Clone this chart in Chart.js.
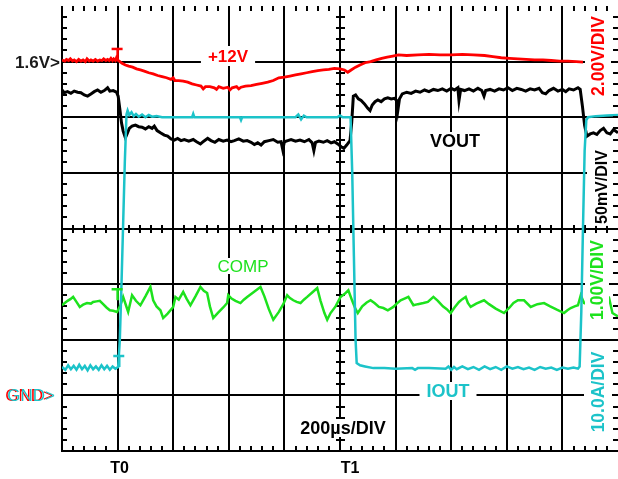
<!DOCTYPE html>
<html>
<head>
<meta charset="utf-8">
<script src="https://cdn.jsdelivr.net/npm/chart.js@4.4.1/dist/chart.umd.min.js"></script>
<style>
  html, body { margin: 0; padding: 0; background: #fff; }
  canvas { display: block; }
</style>
</head>
<body>
<canvas id="c" width="618" height="479"></canvas>
<script>
// Horizontal axis: divisions (200µs/DIV), vertical axis: screen divisions from bottom.
const xDivisions = 10;
const yDivisions = 8;
const timeLabels = ['T0', 'T1'];
const timeMarks = [1.0, 5.0];

// +12V trace (red)
const trace12V = [[0,7.03],[0.05,7.01],[0.08,7.04],[0.12,7.02],[0.15,7.05],[0.19,7.01],[0.22,7.03],[0.26,7.00],[0.3,7.04],[0.34,7.01],[0.38,7.03],[0.42,7.00],
[0.45,7.05],[0.49,7.01],[0.52,7.03],[0.56,7.01],[0.6,7.04],[0.64,7.01],[0.68,7.03],[0.72,7.02],[0.75,7.05],[0.79,7.02],[0.82,7.04],[0.85,7.02],
[0.88,7.06],[0.91,7.02],[0.93,7.05],[0.96,7.02],[0.98,7.07],[1.01,7.02],[1.03,7.01],[1.08,6.97],[1.14,6.94],[1.2,6.92],[1.27,6.90],
[1.34,6.87],[1.41,6.85],[1.48,6.83],[1.56,6.80],[1.64,6.78],[1.72,6.75],[1.8,6.73],[1.88,6.71],[1.96,6.68],[2.0,6.71],[2.03,6.66],
[2.1,6.66],[2.18,6.65],[2.26,6.63],[2.34,6.60],[2.42,6.58],[2.5,6.56],[2.54,6.51],[2.58,6.55],[2.66,6.55],[2.74,6.53],[2.78,6.50],[2.82,6.55],
[2.9,6.52],[2.98,6.54],[3.02,6.49],[3.06,6.53],[3.14,6.55],[3.18,6.51],[3.22,6.54],[3.3,6.56],[3.4,6.57],[3.5,6.59],[3.6,6.61],[3.7,6.63],
[3.8,6.66],[3.9,6.71],[4.0,6.72],[4.1,6.74],[4.2,6.76],[4.3,6.78],[4.4,6.80],[4.5,6.82],[4.6,6.84],[4.7,6.85],
[4.8,6.86],[4.9,6.88],[5.0,6.87],[5.08,6.85],[5.14,6.81],[5.2,6.85],[5.28,6.90],[5.36,6.94],[5.45,6.98],[5.55,7.00],
[5.65,7.03],[5.75,7.06],[5.85,7.08],[5.95,7.10],[6.05,7.12],[6.2,7.11],[6.4,7.12],[6.6,7.13],[6.8,7.12],[7.0,7.12],
[7.2,7.13],[7.4,7.12],[7.6,7.11],[7.75,7.09],[7.9,7.07],[8.05,7.06],[8.2,7.05],[8.35,7.04],[8.5,7.03],[8.65,7.03],
[8.8,7.02],[8.95,7.01],[9.1,7.01],[9.25,7.00],[9.37,6.99]];

// VOUT trace (black)
const traceVout = [[0,6.49],[0.04,6.44],[0.1,6.46],[0.16,6.43],[0.22,6.47],[0.28,6.45],[0.34,6.44],[0.4,6.40],[0.46,6.38],[0.52,6.42],
[0.58,6.46],[0.64,6.49],[0.7,6.45],[0.76,6.48],[0.82,6.53],[0.86,6.47],[0.92,6.48],[0.98,6.45],[1.01,6.38],[1.04,6.15],
[1.07,5.90],[1.1,5.75],[1.14,5.63],[1.17,5.70],[1.21,5.80],[1.26,5.84],[1.32,5.86],[1.38,5.83],[1.44,5.82],[1.5,5.79],
[1.56,5.83],[1.62,5.80],[1.66,5.84],[1.71,5.76],[1.77,5.72],[1.84,5.68],[1.9,5.66],[1.96,5.61],[2.02,5.59],[2.08,5.62],
[2.14,5.58],[2.2,5.60],[2.28,5.57],[2.36,5.60],[2.42,5.56],[2.49,5.52],[2.55,5.57],[2.62,5.62],[2.68,5.58],[2.75,5.55],
[2.82,5.60],[2.9,5.57],[2.97,5.59],[3.04,5.56],[3.1,5.58],[3.18,5.61],[3.26,5.57],[3.33,5.58],[3.4,5.55],[3.46,5.51],
[3.52,5.54],[3.58,5.50],[3.64,5.56],[3.72,5.58],[3.8,5.60],[3.88,5.55],[3.94,5.56],[3.97,5.42],[4.0,5.56],[4.06,5.58],
[4.12,5.60],[4.2,5.57],[4.28,5.59],[4.36,5.56],[4.44,5.60],[4.5,5.54],[4.53,5.40],[4.56,5.55],[4.62,5.57],[4.7,5.55],
[4.77,5.58],[4.84,5.54],[4.9,5.56],[4.96,5.52],[5.02,5.47],[5.07,5.44],[5.12,5.50],[5.18,5.58],[5.21,5.90],[5.24,6.38],
[5.28,6.40],[5.33,6.33],[5.38,6.30],[5.44,6.24],[5.5,6.16],[5.54,6.12],[5.58,6.22],[5.63,6.28],[5.68,6.31],[5.74,6.28],
[5.8,6.33],[5.86,6.35],[5.92,6.33],[5.98,6.34],[6.02,6.30],[6.04,6.12],[6.07,6.33],[6.12,6.42],[6.2,6.45],[6.28,6.43],
[6.36,6.47],[6.44,6.45],[6.52,6.49],[6.6,6.46],[6.68,6.50],[6.76,6.48],[6.84,6.51],[6.92,6.47],[7.0,6.52],[7.06,6.49],
[7.12,6.53],[7.14,6.30],[7.17,6.50],[7.24,6.48],[7.32,6.51],[7.4,6.47],[7.48,6.52],[7.55,6.48],[7.59,6.38],[7.62,6.48],
[7.7,6.50],[7.78,6.47],[7.86,6.51],[7.94,6.49],[8.02,6.53],[8.1,6.48],[8.18,6.52],[8.26,6.50],[8.34,6.47],[8.42,6.51],
[8.5,6.49],[8.58,6.52],[8.64,6.44],[8.7,6.42],[8.76,6.48],[8.84,6.52],[8.92,6.47],[9.0,6.50],[9.06,6.46],[9.12,6.51],
[9.2,6.49],[9.28,6.53],[9.32,6.50],[9.36,6.20],[9.4,5.85],[9.44,5.66],[9.5,5.70],[9.56,5.72],[9.62,5.69],[9.68,5.76],
[9.74,5.80],[9.8,5.72],[9.86,5.70],[9.92,5.78],[10.0,5.72]];

// IOUT trace (cyan)
const traceIout = [[0,1.51],[0.06,1.46],[0.11,1.54],[0.16,1.47],[0.21,1.53],[0.26,1.46],[0.31,1.55],[0.36,1.47],[0.41,1.53],[0.46,1.45],
[0.51,1.54],[0.56,1.47],[0.61,1.52],[0.66,1.46],[0.71,1.54],[0.76,1.47],[0.81,1.53],[0.86,1.46],[0.91,1.52],[0.96,1.48],
[1.01,1.51],[1.04,2.0],[1.07,3.0],[1.1,4.1],[1.13,5.2],[1.16,6.05],[1.18,6.12],[1.21,6.04],[1.25,6.09],[1.29,6.02],
[1.33,6.06],[1.38,6.01],[1.44,6.05],[1.5,6.00],[1.56,6.04],[1.62,6.01],[1.7,6.02],[1.8,6.00],[2.0,6.00],[2.34,6.00],
[2.36,6.06],[2.38,6.00],[2.9,6.00],[3.2,6.00],[3.22,5.95],[3.24,6.00],[4.0,6.00],[4.2,6.00],[4.25,6.05],[4.3,5.96],
[4.35,6.03],[4.4,6.00],[4.95,6.00],[5.0,6.03],[5.05,6.00],[5.19,6.00],[5.22,5.0],[5.25,3.5],[5.28,2.0],[5.3,1.58],
[5.36,1.54],[5.45,1.52],[5.6,1.49],[5.8,1.49],[6.0,1.48],[6.3,1.49],[6.35,1.46],[6.4,1.49],[6.6,1.49],[6.9,1.48],
[6.95,1.52],[7.0,1.46],[7.05,1.51],[7.1,1.47],[7.2,1.52],[7.3,1.47],[7.4,1.51],[7.5,1.46],[7.6,1.52],[7.7,1.47],
[7.8,1.51],[7.9,1.46],[8.0,1.52],[8.1,1.48],[8.2,1.51],[8.3,1.47],[8.4,1.50],[8.5,1.46],[8.6,1.51],[8.7,1.48],
[8.8,1.50],[8.9,1.46],[9.0,1.50],[9.1,1.48],[9.2,1.50],[9.28,1.48],[9.31,1.52],[9.34,2.5],[9.37,4.0],[9.4,5.4],
[9.43,5.95],[9.46,6.00],[9.6,6.02],[9.8,6.03],[10.0,6.04]];

// COMP trace (green)
const traceComp = [[0,2.62],[0.05,2.66],[0.1,2.70],[0.15,2.73],[0.2,2.77],[0.26,2.68],[0.32,2.59],[0.38,2.63],[0.45,2.66],[0.52,2.65],
[0.56,2.68],[0.62,2.69],[0.68,2.70],[0.74,2.64],[0.8,2.58],[0.86,2.53],[0.92,2.52],[0.99,2.50],[1.05,2.62],[1.1,2.77],
[1.15,2.62],[1.19,2.50],[1.26,2.80],[1.33,2.70],[1.41,2.62],[1.5,2.78],[1.59,2.95],[1.64,2.71],[1.7,2.60],[1.77,2.53],
[1.82,2.39],[1.9,2.47],[2.0,2.59],[2.04,2.77],[2.1,2.72],[2.18,2.86],[2.24,2.74],[2.31,2.62],[2.4,2.78],[2.49,2.95],
[2.55,2.88],[2.61,2.84],[2.66,2.60],[2.72,2.39],[2.8,2.48],[2.9,2.58],[2.97,2.66],[2.99,2.80],[3.05,2.74],[3.12,2.70],
[3.21,2.66],[3.27,2.72],[3.33,2.77],[3.45,2.86],[3.57,2.95],[3.64,2.78],[3.72,2.55],[3.8,2.36],[3.9,2.50],[3.98,2.64],
[4.05,2.80],[4.1,2.75],[4.16,2.71],[4.22,2.68],[4.29,2.66],[4.35,2.72],[4.41,2.77],[4.5,2.85],[4.59,2.93],[4.65,2.70],
[4.72,2.48],[4.77,2.36],[4.83,2.48],[4.92,2.60],[5.01,2.77],[5.08,2.82],[5.15,2.89],[5.22,2.70],[5.28,2.55],[5.32,2.48],
[5.4,2.60],[5.48,2.67],[5.55,2.71],[5.62,2.66],[5.7,2.59],[5.78,2.57],[5.86,2.53],[5.96,2.59],[6.02,2.65],[6.09,2.71],
[6.16,2.74],[6.23,2.77],[6.32,2.62],[6.4,2.64],[6.5,2.66],[6.58,2.68],[6.68,2.77],[6.76,2.70],[6.85,2.60],[6.92,2.55],
[6.99,2.48],[7.06,2.58],[7.14,2.68],[7.2,2.73],[7.26,2.77],[7.3,2.66],[7.35,2.59],[7.45,2.65],[7.59,2.71],[7.68,2.64],
[7.8,2.56],[7.95,2.48],[8.05,2.58],[8.12,2.66],[8.2,2.71],[8.31,2.71],[8.43,2.59],[8.55,2.64],[8.67,2.66],[8.78,2.60],
[8.9,2.54],[9.03,2.48],[9.09,2.53],[9.15,2.57],[9.22,2.60],[9.28,2.62],[9.33,2.80],[9.39,2.66],[9.5,2.62],[9.7,2.65],
[9.84,2.75],[9.9,2.48],[10.0,2.42]];

// Trigger "T" markers: [x, y] in divisions
const trigMarks = [[1.0, 7.03, '#ff0000'], [1.0, 2.71, '#1de21d'], [1.03, 1.51, '#1cc3c9']];
// Reference level arrows on the left
const refLevels = [['1.6V>', 7.03], ['GND>', 1.02]];

const RED = '#ff0000', GREEN = '#1de21d', CYAN = '#1cc3c9', BLACK = '#000000';
const FF = '"Liberation Sans", Arial, Helvetica, sans-serif';

function toXY(arr) { return arr.map(p => ({ x: p[0], y: p[1] })); }

function seg(ctx, x1, y1, x2, y2) { ctx.beginPath(); ctx.moveTo(x1, y1); ctx.lineTo(x2, y2); ctx.stroke(); }

function text(ctx, str, cx, cy, size, weight, color, box, rot) {
  ctx.save();
  ctx.font = weight + ' ' + size + 'px ' + FF;
  const w = ctx.measureText(str).width;
  ctx.translate(cx, cy);
  if (rot) ctx.rotate(-Math.PI / 2);
  if (box) {
    ctx.fillStyle = '#fff';
    ctx.fillRect(-w / 2 - box[0], -box[1], w + 2 * box[0], 2 * box[1]);
  }
  ctx.fillStyle = color;
  ctx.textAlign = 'center';
  ctx.textBaseline = 'alphabetic';
  ctx.fillText(str, 0, size * 0.36);
  ctx.restore();
}

const scopePlugin = {
  id: 'scope',
  beforeDatasetsDraw(chart) {
    const { ctx, scales: { x, y } } = chart;
    const X = v => Math.round(x.getPixelForValue(v));
    const Y = v => Math.round(y.getPixelForValue(v));
    ctx.save();
    ctx.strokeStyle = '#000';
    ctx.lineWidth = 2;
    ctx.lineCap = 'butt';
    for (let i = 0; i < xDivisions; i++) seg(ctx, X(i), Y(yDivisions), X(i), Y(0) + 1);
    for (let j = 0; j < yDivisions; j++) seg(ctx, X(0) - 1, Y(j), X(xDivisions), Y(j));
    for (let k = 1; k < xDivisions * 5; k++) {
      const px = X(k / 5);
      seg(ctx, px, Y(0), px, Y(0) - 5);
      seg(ctx, px, Y(yDivisions / 2) - 4, px, Y(yDivisions / 2) + 4);
      seg(ctx, px, Y(yDivisions), px, Y(yDivisions) + 5);
    }
    for (let k = 1; k < yDivisions * 5; k++) {
      const py = Y(k / 5);
      seg(ctx, X(0), py, X(0) + 5, py);
      seg(ctx, X(xDivisions / 2) - 4, py, X(xDivisions / 2) + 5, py);
    }
    ctx.restore();
  },
  afterDatasetsDraw(chart) {
    const { ctx, scales: { x, y } } = chart;
    const X = v => x.getPixelForValue(v);
    const Y = v => y.getPixelForValue(v);
    ctx.save();
    // trigger markers
    ctx.lineWidth = 2.5;
    trigMarks.forEach(m => {
      ctx.strokeStyle = m[2];
      const px = X(m[0]), py = Y(m[1]);
      seg(ctx, px - 6, py - 11, px + 5, py - 11);
      seg(ctx, px, py - 11, px, py);
    });
    // in-plot labels
    text(ctx, '+12V', 228, 56, 17, 'bold', RED, [7, 10]);
    text(ctx, 'VOUT', 455, 141, 18, 'bold', BLACK, [3, 9]);
    text(ctx, 'COMP', 243, 266, 17, 'normal', GREEN, [2, 8]);
    text(ctx, 'IOUT', 448, 391, 18, 'bold', CYAN, [7, 9]);
    text(ctx, '200µs/DIV', 343, 428, 18, 'bold', BLACK, [3, 9]);
    // right-side scale labels
    text(ctx, '2.00V/DIV', 598, 56, 17.5, 'bold', RED, [3, 13], true);
    text(ctx, '50mV/DIV', 601, 187, 16, 'bold', BLACK, [2, 14], true);
    text(ctx, '1.00V/DIV', 597, 280, 17.5, 'bold', GREEN, [3, 12], true);
    text(ctx, '10.0A/DIV', 598, 392, 17.5, 'bold', CYAN, [3, 14], true);
    // right edge ticks on top
    ctx.strokeStyle = '#000';
    ctx.lineWidth = 2;
    for (let k = 1; k < yDivisions * 5; k++) {
      const py = Math.round(Y(k / 5));
      seg(ctx, X(xDivisions) - 5, py, X(xDivisions), py);
    }
    ctx.restore();
  },
  afterDraw(chart) {
    const { ctx, scales: { x, y } } = chart;
    ctx.save();
    // time markers below plot
    timeLabels.forEach((t, i) => {
      const off = i === 0 ? 2 : 10;
      text(ctx, t, x.getPixelForValue(timeMarks[i]) + off, 467, 16, 'bold', BLACK, null);
    });
    // reference levels
    ctx.font = 'bold 17px ' + FF;
    ctx.textAlign = 'right';
    ctx.textBaseline = 'alphabetic';
    ctx.fillStyle = '#1a1a1a';
    ctx.fillText(refLevels[0][0], 60, y.getPixelForValue(refLevels[0][1]) + 8);
    ctx.font = '17px ' + FF;
    ctx.fillStyle = RED;
    ctx.fillText(refLevels[1][0], 53, y.getPixelForValue(refLevels[1][1]) + 6.5);
    ctx.fillStyle = CYAN;
    ctx.fillText(refLevels[1][0], 55, y.getPixelForValue(refLevels[1][1]) + 6.5);
    ctx.restore();
  }
};

const common = { pointRadius: 0, tension: 0, fill: false };

new Chart(document.getElementById('c').getContext('2d'), {
  type: 'line',
  data: {
    datasets: [
      Object.assign({ label: 'IOUT', data: toXY(traceIout), borderColor: CYAN, borderWidth: 2.5 }, common),
      Object.assign({ label: 'VOUT', data: toXY(traceVout), borderColor: BLACK, borderWidth: 3 }, common),
      Object.assign({ label: 'COMP', data: toXY(traceComp), borderColor: GREEN, borderWidth: 2.5 }, common),
      Object.assign({ label: '+12V', data: toXY(trace12V), borderColor: RED, borderWidth: 2.8 }, common)
    ]
  },
  options: {
    responsive: false,
    animation: false,
    devicePixelRatio: 1,
    layout: { padding: { left: 62, right: 0, top: 6, bottom: 28 } },
    scales: {
      x: { type: 'linear', min: 0, max: xDivisions, display: false },
      y: { type: 'linear', min: 0, max: yDivisions, display: false }
    },
    plugins: { legend: { display: false }, tooltip: { enabled: false } }
  },
  plugins: [scopePlugin]
});
</script>
</body>
</html>
